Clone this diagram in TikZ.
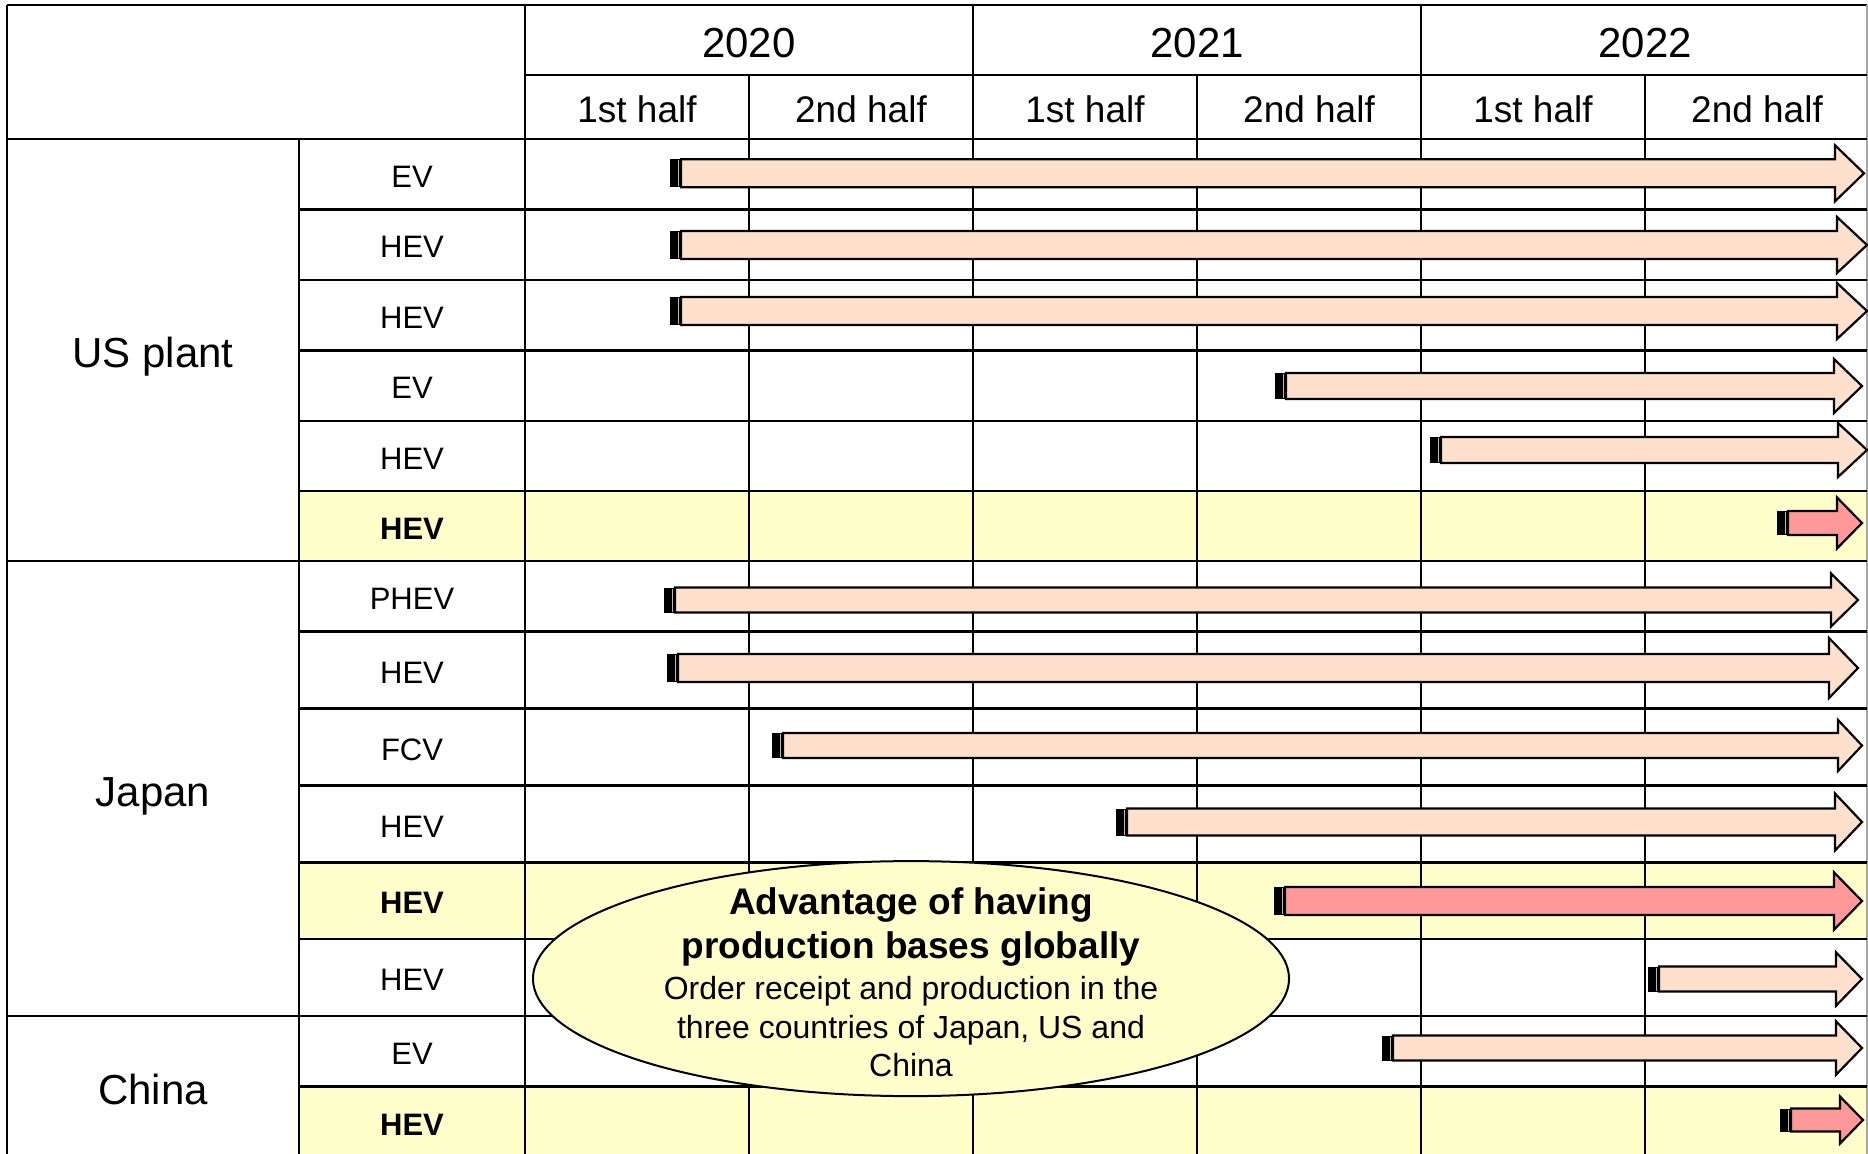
\documentclass[tikz,border=0pt]{standalone}
\usepackage{fontspec}
\setmainfont{Liberation Sans}
\usetikzlibrary{shapes.geometric}

\definecolor{peach}{RGB}{254,224,204}
\definecolor{salmon}{RGB}{255,153,153}
\definecolor{paleyellow}{RGB}{255,255,204}

% timeline bar: name, y, start x, tip x, shaft half height, head half height, head length, fill
\newcommand{\planbar}[8]{%
  \fill[black] (#3,#2-#5) rectangle (#3+11,#2+#5);
  \draw[peach!55!gray, line width=0.45pt] (#3+8,#2-#5+1) -- (#3+8,#2+#5-1);
  \draw[fill=#8, line width=1.1pt, line join=miter]
    (#3+11,#2-#5) -- (#4-#7,#2-#5) -- (#4-#7,#2-#6) -- (#4,#2)
    -- (#4-#7,#2+#6) -- (#4-#7,#2+#5) -- (#3+11,#2+#5) -- cycle;
  \coordinate (#1) at (#3,#2);
}

\tikzset{
  grid/.style={line width=1.2pt, black},
  yearlab/.style={anchor=base, inner sep=0, font=\fontsize{21}{25}\selectfont},
  halflab/.style={anchor=base, inner sep=0, font=\fontsize{18.5}{22}\selectfont},
  grouplab/.style={anchor=base, inner sep=0, font=\fontsize{21}{25}\selectfont},
  rowlab/.style={anchor=base, inner sep=0, font=\fontsize{15.5}{18}\selectfont},
  keylab/.style={rowlab, font=\fontsize{15.5}{18}\selectfont\bfseries},
  advtitle/.style={anchor=base, inner sep=0, font=\fontsize{18.5}{22}\selectfont\bfseries},
  advtext/.style={anchor=base, inner sep=0, font=\fontsize{16}{19.4}\selectfont},
}

\begin{document}
\begin{tikzpicture}[x=0.5pt, y=-0.5pt]
\useasboundingbox (0,0) rectangle (1868,1153);
\clip (0,0) rectangle (1868,1153);
\fill[white] (0,0) rectangle (1868,1153);

% highlighted rows
\fill[paleyellow] (299,491) rectangle (1867,561);
\fill[paleyellow] (299,862.5) rectangle (1867,939);
\fill[paleyellow] (299,1086.5) rectangle (1867,1157);

% table frame and header
\draw[grid] (7,5) -- (1867,5);
\draw[grid] (7,5) -- (7,1157);
\draw[gray!70, line width=0.8pt] (1867,5) -- (1867,1157);
\draw[grid] (525,75) -- (1867,75);
\draw[grid] (7,139) -- (1867,139);
\draw[grid] (525,5) -- (525,1157);
\draw[grid] (973,5) -- (973,1157);
\draw[grid] (1421,5) -- (1421,1157);
\foreach \x in {749,1197,1645} \draw[grid] (\x,75) -- (\x,1157);
\draw[grid] (299,139) -- (299,1157);

% row separators
\foreach \y in {209.5,280,350.5,421,491,631.5,708.5,785.5,862.5,939,1086.5}
  \draw[grid] (299,\y) -- (1867,\y);
\foreach \y in {561,1016,1157}
  \draw[grid] (7,\y) -- (1867,\y);

% header labels
\node[yearlab] (y2020) at (749,57) {2020};
\node[yearlab] (y2021) at (1197,57) {2021};
\node[yearlab] (y2022) at (1645,57) {2022};
\node[halflab] (h1) at (637,122) {1st half};
\node[halflab] (h2) at (861,122) {2nd half};
\node[halflab] (h3) at (1085,122) {1st half};
\node[halflab] (h4) at (1309,122) {2nd half};
\node[halflab] (h5) at (1533,122) {1st half};
\node[halflab] (h6) at (1757,122) {2nd half};

% plant labels
\node[grouplab] (us) at (153,367.5) {US plant};
\node[grouplab] (jp) at (153,806) {Japan};
\node[grouplab] (cn) at (153,1104) {China};

% vehicle labels
\node[rowlab] (r1) at (412,187) {EV};
\node[rowlab] (r2) at (412,257.5) {HEV};
\node[rowlab] (r3) at (412,328) {HEV};
\node[rowlab] (r4) at (412,398.5) {EV};
\node[rowlab] (r5) at (412,469) {HEV};
\node[keylab] (r6) at (412,539) {HEV};
\node[rowlab] (r7) at (412,609) {PHEV};
\node[rowlab] (r8) at (412,683) {HEV};
\node[rowlab] (r9) at (412,760) {FCV};
\node[rowlab] (r10) at (412,837) {HEV};
\node[keylab] (r11) at (412,913.5) {HEV};
\node[rowlab] (r12) at (412,990.5) {HEV};
\node[rowlab] (r13) at (412,1064.5) {EV};
\node[keylab] (r14) at (412,1135) {HEV};

% production timelines
\planbar{b1}{173.3}{670}{1864}{14}{28}{29}{peach}
\planbar{b2}{245}{670}{1867}{14}{28}{30}{peach}
\planbar{b3}{311}{670}{1867}{14}{28}{30}{peach}
\planbar{b4}{386}{1275}{1862}{13}{27}{28}{peach}
\planbar{b5}{450}{1430}{1867}{13}{27}{29}{peach}
\planbar{b6}{523}{1777}{1862}{12}{25.5}{25}{salmon}
\planbar{b7}{600}{664}{1858}{12.5}{26.5}{27}{peach}
\planbar{b8}{668}{667}{1858}{14}{30}{29}{peach}
\planbar{b9}{745.5}{772}{1862}{12.5}{25.5}{24}{peach}
\planbar{b10}{822}{1116}{1862}{13.5}{28.5}{27}{peach}
\planbar{b11}{901}{1274}{1862}{14}{28.7}{28}{salmon}
\planbar{b12}{979}{1648}{1862}{12.5}{26.7}{26}{peach}
\planbar{b13}{1048}{1382}{1862}{12.5}{26.7}{26}{peach}
\planbar{b14}{1120}{1780}{1863}{11.5}{23.5}{23}{salmon}

% callout
\node[draw, ellipse, fill=paleyellow, line width=1pt, inner sep=0,
      minimum width=378pt, minimum height=117.5pt] (adv) at (911,978.6) {};
\node[advtitle] (t1) at (911,914) {Advantage of having};
\node[advtitle] (t2) at (911,958) {production bases globally};
\node[advtext] (t3) at (911,999.5) {Order receipt and production in the};
\node[advtext] (t4) at (911,1038) {three countries of Japan, US and};
\node[advtext] (t5) at (911,1076) {China};
\end{tikzpicture}
\end{document}
